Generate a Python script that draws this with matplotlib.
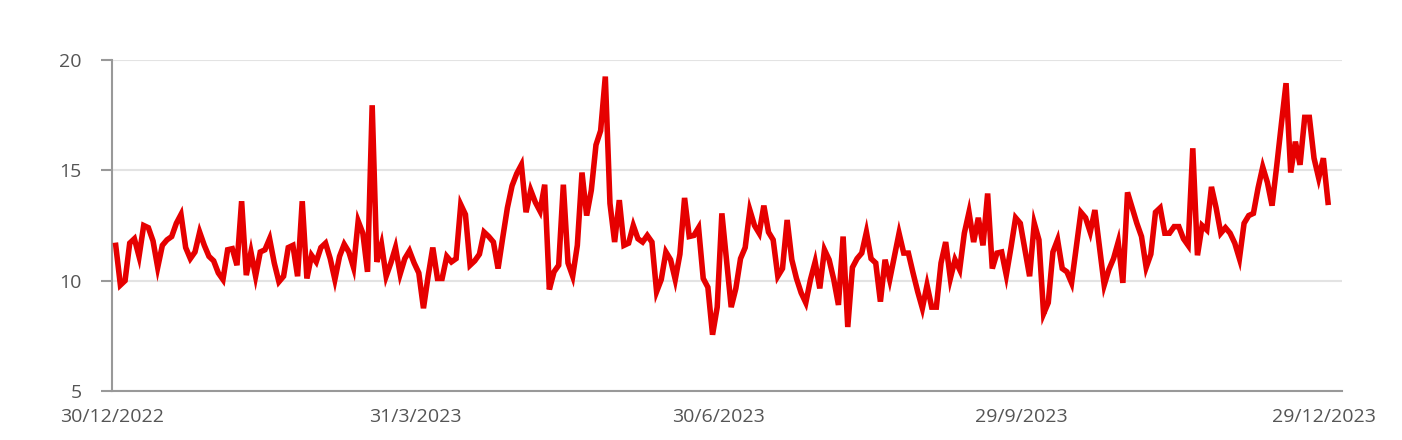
# Daily series, 30/12/2022 - 29/12/2023 (business days)

import pandas as pd
import matplotlib
matplotlib.use("Agg")
import matplotlib.pyplot as plt

dates = pd.bdate_range("2022-12-30", "2023-12-29")

values = [
    11.6, 9.8, 10.0, 11.7, 11.9, 11.1, 12.5, 12.4, 11.8, 10.6,
    11.6, 11.85, 12.0, 12.6, 13.0, 11.5, 11.0, 11.3, 12.2, 11.6,
    11.1, 10.9, 10.35, 10.05, 11.4, 11.45, 10.7, 13.6, 10.25, 11.3,
    10.2, 11.3, 11.4, 11.9, 10.8, 9.95, 10.2, 11.5, 11.6, 10.2,
    13.6, 10.1, 11.15, 10.85, 11.5, 11.7, 11.0, 10.05, 11.1, 11.65,
    11.3, 10.6, 12.7, 12.15, 10.4, 17.95, 10.85, 11.65, 10.2, 10.8,
    11.5, 10.3, 11.0, 11.35, 10.8, 10.35, 8.75, 10.2, 11.5, 10.1,
    10.1, 11.1, 10.85, 11.0, 13.45, 13.0, 10.7, 10.9, 11.2, 12.2,
    12.0, 11.75, 10.55, 11.95, 13.3, 14.3, 14.85, 15.25, 13.1, 14.1,
    13.55, 13.15, 14.35, 9.6, 10.4, 10.7, 14.35, 10.8, 10.2, 11.6,
    14.9, 12.95, 14.1, 16.15, 16.8, 19.25, 13.5, 11.75, 13.65, 11.6,
    11.7, 12.5, 11.9, 11.75, 12.05, 11.75, 9.5, 10.05, 11.3, 10.95,
    10.05, 11.2, 13.75, 12.0, 12.05, 12.4, 10.1, 9.7, 7.55, 8.8,
    13.05, 10.9, 8.8, 9.65, 11.0, 11.5, 13.2, 12.5, 12.15, 13.4,
    12.2, 11.85, 10.2, 10.55, 12.75, 10.95, 10.1, 9.45, 9.0, 10.05,
    10.85, 9.65, 11.4, 10.95, 10.05, 8.9, 12.0, 7.9, 10.6, 11.0,
    11.25, 12.2, 11.0, 10.8, 9.05, 10.95, 10.05, 11.1, 12.15, 11.25,
    11.25, 10.35, 9.5, 8.75, 9.8, 8.8, 8.8, 10.8, 11.75, 10.1,
    10.95, 10.5, 12.15, 13.1, 11.75, 12.85, 11.6, 13.95, 10.55, 11.25,
    11.3, 10.25, 11.5, 12.85, 12.6, 11.4, 10.2, 12.6, 11.85, 8.5,
    9.0, 11.3, 11.85, 10.55, 10.4, 9.9, 11.5, 13.1, 12.85, 12.2,
    13.2, 11.5, 9.8, 10.5, 11.0, 11.75, 9.9, 14.0, 13.3, 12.6,
    12.0, 10.6, 11.2, 13.1, 13.3, 12.15, 12.15, 12.45, 12.45, 11.9,
    11.6, 16.0, 11.15, 12.5, 12.3, 14.25, 13.3, 12.15, 12.4, 12.15,
    11.7, 11.0, 12.6, 12.95, 13.05, 14.2, 15.15, 14.45, 13.4, 15.2,
    17.1, 18.95, 14.9, 16.3, 15.25, 17.4, 17.4, 15.55, 14.65, 15.55,
    13.55,
]

tick_idx = [0, 65, 130, 195, 260]
y_ticks = [5, 10, 15, 20]

n = min(len(dates), len(values))
x = list(range(n))

plt.rcParams['font.family'] = ['Open Sans', 'DejaVu Sans']

fig = plt.figure(figsize=(14.02, 4.40), dpi=100)
ax = fig.add_axes([112/1402, 1 - 391/440, (1342 - 112)/1402, (391 - 60)/440])

ax.plot(x, values[:n], color='#e60000', lw=4.0, solid_joinstyle='miter', zorder=3)

ax.set_xlim(-0.2, 263)
ax.set_ylim(5, 20)
ax.set_yticks(y_ticks)
# labels sit a touch left of their points in the original
ax.set_xticks([i - 0.8 for i in tick_idx])
ax.set_xticklabels(["{0}/{1}/{2}".format(d.day, d.month, d.year) for d in dates[tick_idx]])

ax.grid(axis='y', color='#e3e3e3', lw=1.5, zorder=0)
for s in ['top', 'right']:
    ax.spines[s].set_visible(False)
for s in ['left', 'bottom']:
    ax.spines[s].set_color('#999999')
    ax.spines[s].set_linewidth(1.5)

ax.tick_params(axis='y', length=8, width=1.5, color='#999999', pad=14,
               labelsize=14, labelcolor='#555555')
ax.tick_params(axis='x', length=0, pad=12, labelsize=14, labelcolor='#555555')

fig.savefig("out.png", dpi=100)
